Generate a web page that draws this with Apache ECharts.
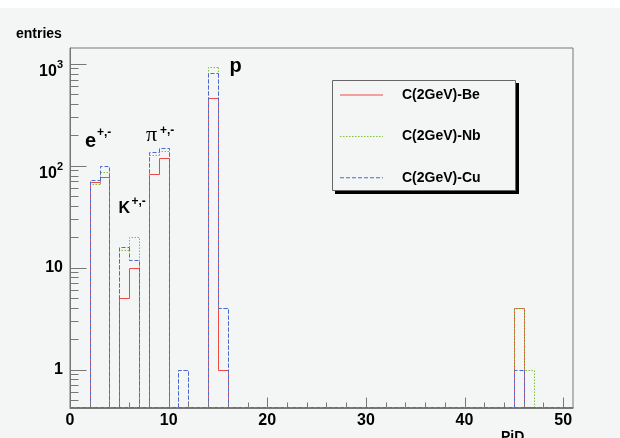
<!DOCTYPE html>
<html><head><meta charset="utf-8">
<script src="https://cdn.jsdelivr.net/npm/echarts@6/dist/echarts.min.js"></script>
<style>html,body{margin:0;padding:0;background:#fff}#c{width:620px;height:438px}</style>
</head><body><div id="c"></div><script>
// ---- data ----
const binLow = [2, 3, 5, 6, 8, 9, 11, 14, 15, 45, 46];          // lower edge of each non-empty bin (bin width 1)
const valBe  = [69, 77, 5, 10, 82, 118, 0, 460, 1, 4, 0];
const valNb  = [66, 86, 15, 20, 126, 138, 1, 920, 4, 4, 1];
const valCu  = [72, 99, 16, 12, 136, 149, 1, 810, 4, 1, 0];
const seriesNames = ['C(2GeV)-Be', 'C(2GeV)-Nb', 'C(2GeV)-Cu'];
const xMajorTicks = [0, 10, 20, 30, 40, 50];
const xMinorTicks = [2,4,6,8,12,14,16,18,22,24,26,28,32,34,36,38,42,44,46,48];
const yMajorTicks = [1, 10, 100, 1000];
const yMinorTicks = [0.5,0.6,0.7,0.8,0.9,2,3,4,5,6,7,8,9,20,30,40,50,60,70,80,90,200,300,400,500,600,700,800,900];
const xMin = 0, xMax = 51, yMin = 0.4195, yMax = 1427;

// ---- style ----
const FONT = '"Liberation Sans", Arial, Helvetica, sans-serif';
const BG = '#f4f6f6';
const AX = '#777';
const colors = ['#ee4848', '#80c040', '#4a6ad0'];
const dashes = [null, [1.5, 1.5], [4, 2]];

function dashPath(w, on, off) {
  let p = '';
  for (let x = 0; x < w; x += on + off) {
    const e = Math.min(x + on, w);
    p += 'M' + x + ',0H' + e + 'V1H' + x + 'Z';
  }
  return 'path://' + p;
}
const icons = ['path://M0,0H43V1H0Z', dashPath(43, 1.5, 1.5), dashPath(43, 4, 2)];

function histRender(vals, color, dash) {
  return function (params, api) {
    const i = params.dataIndex;
    const lo = binLow[i];
    const cs = params.coordSys;
    const bottom = Math.round(cs.y + cs.height) - 0.5;
    const X = x => Math.round(api.coord([x, 1])[0]) + 0.5;
    const Y = v => v > 0 ? Math.round(api.coord([xMin, v])[1]) + 0.5 : bottom;
    const valAt = b => { const k = binLow.indexOf(b); return k < 0 ? 0 : vals[k]; };
    const v = vals[i], p = valAt(lo - 1);
    const pts = [[X(lo), Y(p)], [X(lo), Y(v)], [X(lo + 1), Y(v)]];
    if (binLow.indexOf(lo + 1) < 0) pts.push([X(lo + 1), bottom]);
    const style = { stroke: color, lineWidth: 1, fill: null, lineDash: dash };
    const children = [{ type: 'polyline', shape: { points: pts }, style: style }];
    if (i === 0) children.push({ type: 'line', shape: { x1: X(xMin), y1: bottom, x2: X(xMax), y2: bottom }, style: style });
    return { type: 'group', children: children };
  };
}

function tickRender(params, api) {
  const cs = params.coordSys;
  const left = Math.round(cs.x) + 0.5;
  const bottom = Math.round(cs.y + cs.height) - 0.5;
  const st = { stroke: AX, lineWidth: 1 };
  const ch = [];
  yMajorTicks.forEach(v => { const y = Math.round(api.coord([xMin, v])[1]) + 0.5; ch.push({ type: 'line', shape: { x1: left, y1: y, x2: left + 16, y2: y }, style: st }); });
  yMinorTicks.forEach(v => { const y = Math.round(api.coord([xMin, v])[1]) + 0.5; ch.push({ type: 'line', shape: { x1: left, y1: y, x2: left + 8, y2: y }, style: st }); });
  xMajorTicks.forEach(v => { const x = Math.round(api.coord([v, 1])[0]) + 0.5; ch.push({ type: 'line', shape: { x1: x, y1: bottom, x2: x, y2: bottom - 10 }, style: st }); });
  xMinorTicks.forEach(v => { const x = Math.round(api.coord([v, 1])[0]) + 0.5; ch.push({ type: 'line', shape: { x1: x, y1: bottom, x2: x, y2: bottom - 5 }, style: st }); });
  return { type: 'group', children: ch };
}

const allVals = [valBe, valNb, valCu];
const series = allVals.map((vals, k) => ({
  name: seriesNames[k],
  type: 'custom',
  coordinateSystem: 'cartesian2d',
  itemStyle: { color: colors[k] },
  encode: { x: 0, y: 1 },
  data: binLow.map((b, i) => [b, vals[i] > 0 ? vals[i] : yMin]),
  renderItem: histRender(vals, colors[k], dashes[k]),
  silent: true,
  z: 3 + k
}));
series.push({
  type: 'custom', coordinateSystem: 'cartesian2d', silent: true, z: 10,
  data: [[1, 1]], encode: { x: 0, y: 1 }, renderItem: tickRender
});

function yLabel(v) {
  const e = Math.round(Math.log10(v));
  if (Math.abs(v - Math.pow(10, e)) / v > 1e-6) return '';
  if (e === 0) return '{n|1}';
  if (e === 1) return '{n|10}';
  return '{b|10}{s|' + e + '}';
}

const chart = echarts.init(document.getElementById('c'), null, { renderer: 'canvas' });
chart.setOption({
  backgroundColor: '#ffffff',
  animation: false,
  grid: { left: 70, right: 47, top: 48, bottom: 30, show: true, borderColor: AX, borderWidth: 1, backgroundColor: 'transparent' },
  xAxis: {
    type: 'value', min: xMin, max: xMax, interval: 10,
    axisLine: { show: true, lineStyle: { color: AX } },
    axisTick: { show: false }, splitLine: { show: false },
    axisLabel: { margin: 5, showMaxLabel: false, color: '#000', fontFamily: FONT, fontWeight: 'bold', fontSize: 16,
      formatter: v => (v % 10 === 0 && v <= 50) ? String(v) : '' }
  },
  yAxis: {
    type: 'log', logBase: 10, min: yMin, max: yMax,
    axisLine: { show: true, lineStyle: { color: AX } },
    axisTick: { show: false }, splitLine: { show: false }, minorTick: { show: false },
    axisLabel: { margin: 7, formatter: yLabel, showMinLabel: true, showMaxLabel: true,
      rich: {
        n: { fontFamily: FONT, fontWeight: 'bold', fontSize: 16, color: '#000' },
        b: { fontFamily: FONT, fontWeight: 'bold', fontSize: 16, color: '#000', padding: [16, 0, 0, 0] },
        s: { fontFamily: FONT, fontWeight: 'bold', fontSize: 11, color: '#000', padding: [3, 0, 0, 0] }
      } }
  },
  legend: {
    orient: 'vertical', left: 335, top: 82, itemWidth: 43, itemHeight: 1, itemGap: 25.4,
    selectedMode: false, z: 6,
    textStyle: { fontFamily: FONT, fontWeight: 'bold', fontSize: 14, color: '#000', lineHeight: 16, padding: [0, 0, 0, 14] },
    data: seriesNames.map((n, k) => ({ name: n, icon: icons[k], itemStyle: { color: colors[k] } }))
  },
  graphic: [
    { type: 'rect', z: -10, silent: true, shape: { x: 0, y: 8, width: 620, height: 430 }, style: { fill: BG } },
    { type: 'rect', z: 5, silent: true, shape: { x: 335, y: 83, width: 184, height: 111 }, style: { fill: '#000' } },
    { type: 'rect', z: 5, silent: true, shape: { x: 332.5, y: 80.5, width: 183, height: 110 }, style: { fill: BG, stroke: '#666', lineWidth: 1 } },
    { type: 'text', z: 20, silent: true, x: 16, y: 34, style: { text: 'entries', font: 'bold 14px ' + FONT, fill: '#000', verticalAlign: 'middle' } },
    { type: 'text', z: 20, silent: true, x: 501, y: 437, style: { text: 'PiD', font: 'bold 14px ' + FONT, fill: '#000', verticalAlign: 'middle' } },
    { type: 'text', z: 20, silent: true, x: 85, y: 141, style: { text: 'e', font: 'bold 20px ' + FONT, fill: '#000', verticalAlign: 'middle' } },
    { type: 'text', z: 20, silent: true, x: 97, y: 133, style: { text: '+,-', font: 'bold 12px ' + FONT, fill: '#000', verticalAlign: 'middle' } },
    { type: 'text', z: 20, silent: true, x: 118.5, y: 209, style: { text: 'K', font: 'bold 16px ' + FONT, fill: '#000', verticalAlign: 'middle' } },
    { type: 'text', z: 20, silent: true, x: 131.5, y: 202, style: { text: '+,-', font: 'bold 12px ' + FONT, fill: '#000', verticalAlign: 'middle' } },
    { type: 'text', z: 20, silent: true, x: 146, y: 135, style: { text: 'π', font: '22px "Liberation Serif", "Times New Roman", serif', fill: '#000', verticalAlign: 'middle' } },
    { type: 'text', z: 20, silent: true, x: 160, y: 131, style: { text: '+,-', font: 'bold 12px ' + FONT, fill: '#000', verticalAlign: 'middle' } },
    { type: 'text', z: 20, silent: true, x: 229.5, y: 66, style: { text: 'p', font: 'bold 20px ' + FONT, fill: '#000', verticalAlign: 'middle' } }
  ],
  series: series
});
</script></body></html>
